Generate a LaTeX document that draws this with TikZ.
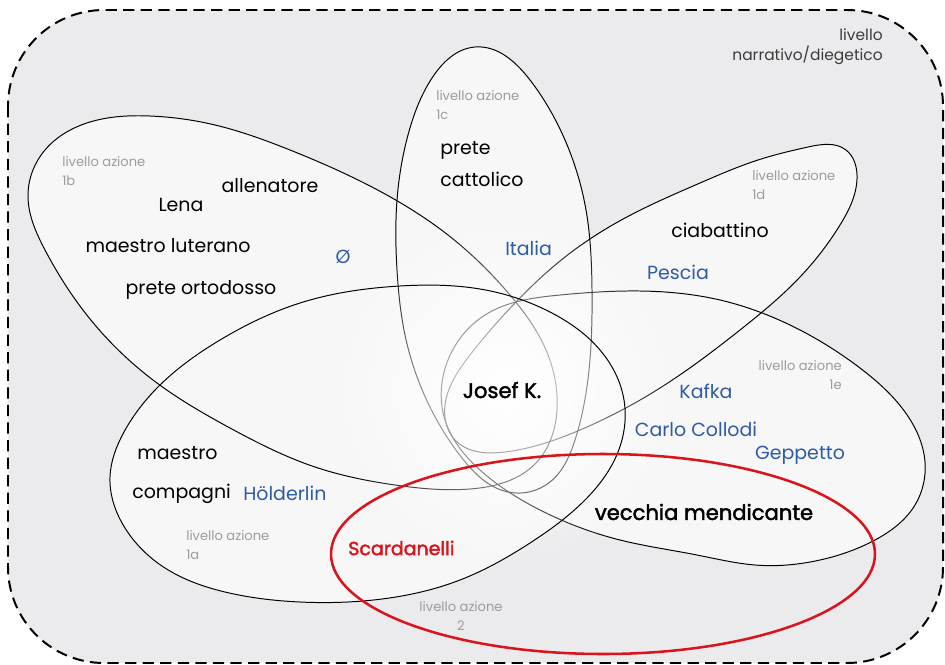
\documentclass[tikz,border=0pt]{standalone}
\usepackage{fontspec}
\setmainfont{Poppins}
\newfontfamily\heavyfont[FakeBold=2]{Poppins}
\usetikzlibrary{fadings,hobby}

\definecolor{bggray}{HTML}{EBEBED}
\definecolor{petalfill}{HTML}{F7F7F7}
\definecolor{nameblue}{HTML}{2D5BA8}
\definecolor{namered}{HTML}{D9141C}
\definecolor{azgray}{HTML}{9C9C9C}
\definecolor{topgray}{HTML}{3C3C3C}

\tikzfading[name=glowfade, inner color=transparent!0, outer color=transparent!100]

% petal outlines, in pixel units (y downwards)
\newcommand\petalA{plot[closed hobby] coordinates {(110,477) (124,432) (157,388) (220,340) (300,303) (400,286) (480,289) (550,312) (600,350) (624,400) (618,452) (585,500) (530,543) (460,580) (382,599) (300,602) (225,592) (165,568) (125,528)}}
\newcommand\petalB{plot[closed hobby] coordinates {(28,195) (45,150) (90,122) (150,116) (215,125) (290,150) (370,186) (448,235) (510,295) (546,350) (557,410) (536,463) (470,489) (395,485) (315,467) (230,428) (157,383) (95,325) (45,250)}}
\newcommand\petalC{plot[closed hobby] coordinates {(475,47) (432,78) (408,135) (397,200) (397,270) (405,335) (428,403) (462,458) (508,492) (550,482) (575,440) (589,370) (592,290) (586,210) (565,140) (530,80)}}
\newcommand\petalD{plot[closed hobby] coordinates {(857,175) (846,150) (808,147) (758,160) (700,183) (625,218) (565,257) (515,303) (470,355) (445,405) (455,440) (505,452) (580,430) (660,388) (740,330) (800,277) (840,225)}}
\newcommand\petalE{plot[closed hobby] coordinates {(640,291) (720,300) (800,330) (860,368) (905,412) (925,462) (915,505) (875,540) (820,560) (755,565) (697,555) (620,540) (540,510) (480,470) (445,420) (448,360) (485,315) (560,295)}}

\begin{document}
\begin{tikzpicture}[x=0.025cm, y=-0.025cm,
    rim/.style={draw=black, line width=0.7pt},
    lbl/.style={font=\fontsize{13.5}{16}\selectfont, text=black, inner sep=0pt},
    blu/.style={lbl, text=nameblue},
    azione/.style={font=\fontsize{9.3}{13.5}\selectfont, text=azgray, inner sep=0pt, align=left}]
    \useasboundingbox (0,0) rectangle (945,664);

    % diegetic frame
    \draw[fill=bggray, line width=1.4pt, dash pattern=on 8pt off 4.5pt, rounded corners=2.4cm] (8,10) rectangle (943,663);

    % petals: fills first, rims after
    \fill[petalfill] \petalB;
    \fill[petalfill] \petalC;
    \fill[petalfill] \petalD;
    \fill[petalfill] \petalE;
    \fill[petalfill] \petalA;
    \draw[rim] \petalB;
    \draw[rim] \petalC;
    \draw[rim] \petalD;
    \draw[rim] \petalE;
    \fill[white, path fading=glowfade] (505,390) circle (180);
    \draw[rim] \petalA;

    % level 2
    \draw[namered, line width=1.8pt] (603,554) ellipse (272 and 100);

    % labels
    \node[font=\fontsize{11}{14.2}\selectfont, text=topgray, align=right, inner sep=0pt, anchor=east] (narr) at (883,47) {livello\\narrativo/diegetico};

    \node[azione, anchor=west] (az1b) at (62,171.5) {livello azione\\1b};
    \node[azione, anchor=west] (az1c) at (436,105.5) {livello azione\\1c};
    \node[azione, anchor=west] (az1d) at (752,185.5) {livello azione\\1d};
    \node[azione, anchor=east, align=right] (az1e) at (842,375.5) {livello azione\\1e};
    \node[azione, anchor=west] (az1a) at (186,545.5) {livello azione\\1a};
    \node[azione, anchor=center, align=center] (az2) at (461,616.5) {livello azione\\2};

    \node[lbl, anchor=west] (prete) at (440,150) {prete};
    \node[lbl, anchor=west] (cattolico) at (440,179) {cattolico};
    \node[blu, anchor=west] (italia) at (505,248) {Italia};

    \node[lbl] (allenatore) at (270,186) {allenatore};
    \node[lbl] (lena) at (181,205) {Lena};
    \node[lbl] (luterano) at (168,246) {maestro luterano};
    \node[lbl] (ortodosso) at (201,290) {prete ortodosso};
    \node[blu] (vuoto) at (343,257) {Ø};

    \node[lbl] (ciabattino) at (720,230) {ciabattino};
    \node[blu] (pescia) at (678,272) {Pescia};

    \node[lbl, font=\heavyfont\fontsize{15}{17}\selectfont] (josef) at (502,390) {Josef K.};

    \node[blu] (kafka) at (706,391) {Kafka};
    \node[blu] (collodi) at (696,429) {Carlo Collodi};
    \node[blu] (geppetto) at (800,455) {Geppetto};
    \node[lbl, font=\heavyfont\fontsize{15}{17}\selectfont] (mendicante) at (704,512) {vecchia mendicante};

    \node[lbl, anchor=west] (maestro) at (137,453) {maestro};
    \node[lbl, anchor=west] (compagni) at (132,494) {compagni};
    \node[blu, anchor=west] (holderlin) at (243,493) {Hölderlin};
    \node[lbl, text=namered, font=\heavyfont\fontsize{13.5}{16}\selectfont, anchor=west] (scardanelli) at (348,548) {Scardanelli};
\end{tikzpicture}
\end{document}
